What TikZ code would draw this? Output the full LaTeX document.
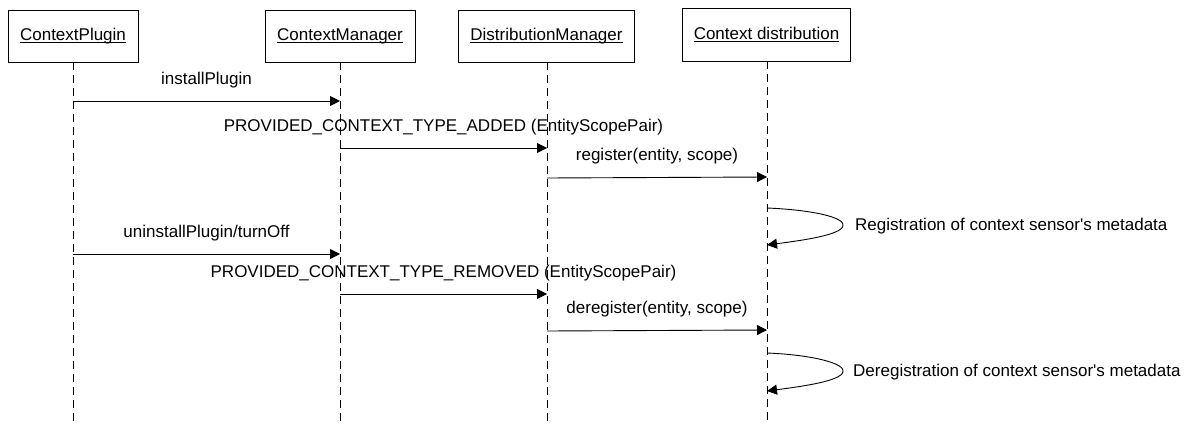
\documentclass[tikz,border=0pt]{standalone}
\usepackage{fontspec}
\setmainfont{Liberation Sans}[Ligatures=TeXOff]
\usetikzlibrary{arrows.meta}
\newcommand\ultext[1]{\setbox0\hbox{#1}\rlap{\rule[-2.4pt]{\wd0}{0.9pt}}\box0}
\tikzset{
  txt/.style={font=\fontsize{17}{20}\selectfont},
  actor/.style={txt, draw, line width=0.9pt, minimum height=52pt, inner sep=0pt},
  lifeline/.style={line width=0.9pt, dash pattern=on 8pt off 5pt},
  msg/.style={line width=0.9pt, -{Triangle[length=10pt,width=10pt]}},
  msglabel/.style={txt, yshift=21pt, inner sep=0pt},
  note/.style={txt, anchor=west, inner sep=0pt}
}
\begin{document}
\begin{tikzpicture}[x=1pt, y=-1pt]
\useasboundingbox (0,0) rectangle (1193,425);

% participants
\node[actor, minimum width=130pt] (cp) at (73,36) {\ultext{ContextPlugin}};
\node[actor, minimum width=150pt] (cm) at (340,36) {\ultext{ContextManager}};
\node[actor, minimum width=176pt] (dm) at (546.5,36) {\ultext{DistributionManager}};
\node[actor, minimum width=168pt, minimum height=53pt] (cd) at (766.5,34.5) {\ultext{Context distribution}};

% lifeline ends
\coordinate (cpE) at (73,425);
\coordinate (cmE) at (340,425);
\coordinate (dmE) at (547,425);
\coordinate (cdE) at (767,425);
\draw[lifeline] (cp.south) -- (cpE);
\draw[lifeline] (cm.south) -- (cmE);
\draw[lifeline] (dm.south -| dmE) -- (dmE);
\draw[lifeline] (cd.south -| cdE) -- (cdE);

% message points on the lifelines
\coordinate (m1a) at (73,101);   \coordinate (m1b) at (340,101);
\coordinate (m2a) at (340,148);  \coordinate (m2b) at (547,148);
\coordinate (m3a) at (547,178);  \coordinate (m3b) at (767,177);
\coordinate (s1a) at (767,208);  \coordinate (s1t) at (843,226);  \coordinate (s1b) at (767,245);
\coordinate (m4a) at (73,254);   \coordinate (m4b) at (340,254);
\coordinate (m5a) at (340,294);  \coordinate (m5b) at (547,294);
\coordinate (m6a) at (547,331);  \coordinate (m6b) at (767,330);
\coordinate (s2a) at (767,353);  \coordinate (s2t) at (843,372);  \coordinate (s2b) at (767,391);

% messages
\draw[msg] (m1a) -- node[msglabel]{installPlugin} (m1b);
\draw[msg] (m2a) -- node[msglabel]{PROVIDED\_CONTEXT\_TYPE\_ADDED (EntityScopePair)} (m2b);
\draw[msg] (m3a) -- node[msglabel]{register(entity, scope)} (m3b);
\draw[msg] (s1a) .. controls (815,210) and (846,218) .. (s1t)
                 .. controls (840,235) and (805,240) .. (s1b);
\node[note] (n1) at (855,226) {Registration of context sensor's metadata};
\draw[msg] (m4a) -- node[msglabel]{uninstallPlugin/turnOff} (m4b);
\draw[msg] (m5a) -- node[msglabel]{PROVIDED\_CONTEXT\_TYPE\_REMOVED (EntityScopePair)} (m5b);
\draw[msg] (m6a) -- node[msglabel]{deregister(entity, scope)} (m6b);
\draw[msg] (s2a) .. controls (815,355) and (846,364) .. (s2t)
                 .. controls (840,381) and (805,386) .. (s2b);
\node[note] (n2) at (853,372) {Deregistration of context sensor's metadata};
\end{tikzpicture}
\end{document}
